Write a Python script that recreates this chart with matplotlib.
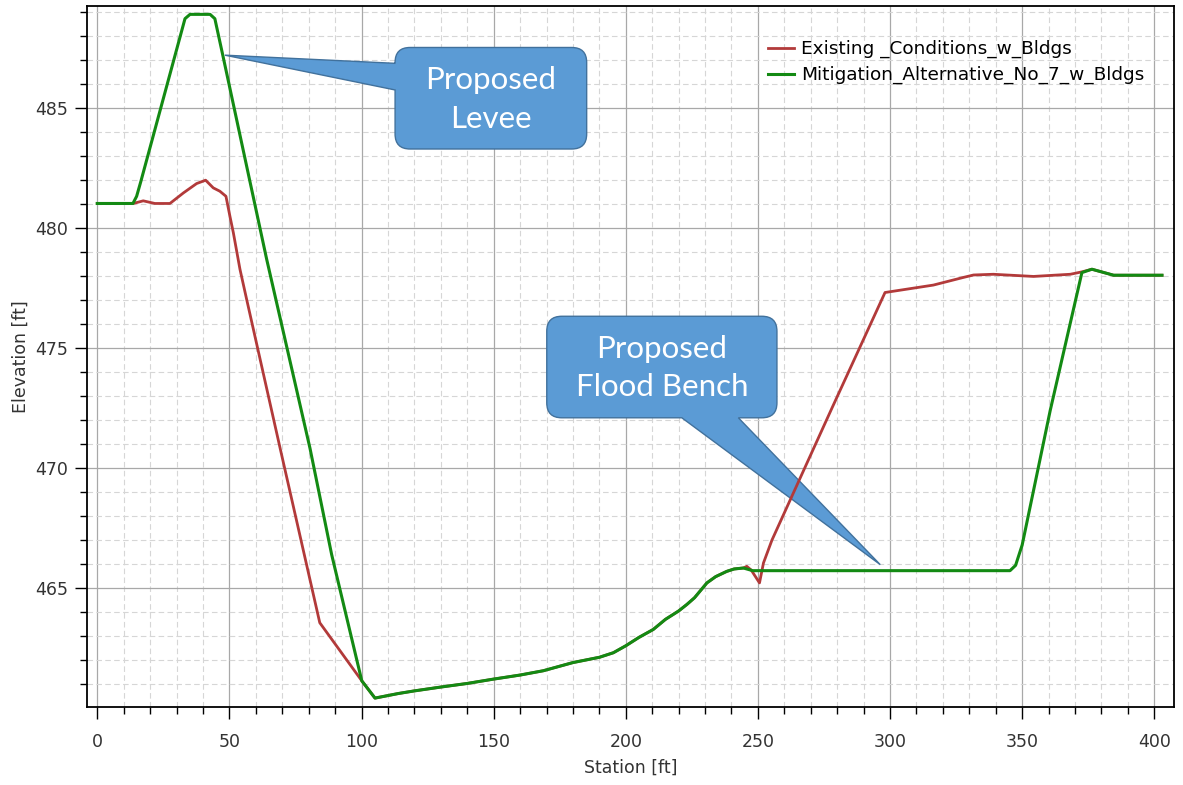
import matplotlib
matplotlib.use('Agg')
import matplotlib.pyplot as plt
from matplotlib.path import Path
from matplotlib.patches import PathPatch
from matplotlib.ticker import MultipleLocator

# Existing conditions profile (station ft, elevation ft)
existing_station = [0, 13.6, 17.4, 21.8, 27.5, 32.6, 37.6, 41.0, 43.9, 46.4, 48.7, 50.2, 51.5,
                    54.0, 56.5, 69.2, 84.2, 100.1, 105.1, 113.9, 120, 130, 140, 149.9, 160,
                    168.8, 180, 190, 195.3, 200, 205, 210.4, 215, 220, 223.1, 226, 230.7, 234,
                    238.2, 241, 244.5, 245.8, 247.5, 250.6, 252.1, 255.3, 278.0, 298.1,
                    316.4, 327.8, 331.6, 339.1, 354.3, 368.2, 372.6, 376.4, 384.6, 402.9]
existing_elev = [481.03, 481.03, 481.14, 481.03, 481.03, 481.47, 481.86, 482.0, 481.68, 481.54,
                 481.33, 480.5, 479.81, 478.29, 477.05, 470.83, 463.56, 461.14, 460.42, 460.61,
                 460.72, 460.88, 461.03, 461.21, 461.38, 461.56, 461.9, 462.12, 462.31, 462.6,
                 462.95, 463.28, 463.7, 464.05, 464.32, 464.6, 465.22, 465.48, 465.70, 465.8,
                 465.84, 465.91, 465.75, 465.22, 466.05, 467.0, 472.5, 477.32, 477.63, 477.95,
                 478.05, 478.08, 477.99, 478.08, 478.18, 478.29, 478.04, 478.04]

# Mitigation alternative no. 7 profile
mitigation_station = [0, 13.5, 14.9, 16.5, 33.2, 35.1, 42.7, 44.5, 47.5, 64.1,
                      80.5, 88.7, 100.1, 105.1, 113.9, 120, 130, 140, 149.9, 160, 168.8, 180,
                      190, 195.3, 200, 205, 210.4, 215, 220, 223.1, 226, 230.7, 234, 238.2, 241,
                      244.5, 248.0, 251.0, 345.4, 347.5, 350.0, 360.6, 372.6, 376.4, 384.6, 402.9]
mitigation_elev = [481.03, 481.03, 481.33, 481.95, 488.73, 488.91, 488.91,
                   488.73, 487.21, 478.71, 470.83, 466.4, 461.14, 460.42, 460.61, 460.72, 460.88,
                   461.03, 461.21, 461.38, 461.56, 461.9, 462.12, 462.31, 462.6, 462.95, 463.28,
                   463.7, 464.05, 464.32, 464.6, 465.22, 465.48, 465.70, 465.8, 465.84, 465.73,
                   465.73, 465.73, 465.95, 466.8, 472.4, 478.15, 478.29, 478.04, 478.04]

series_labels = ['Existing _Conditions_w_Bldgs', 'Mitigation_Alternative_No_7_w_Bldgs']
callout_texts = ['Proposed\nLevee', 'Proposed\nFlood Bench']

plt.rcParams['font.family'] = ['DejaVu Sans']

fig = plt.figure(figsize=(11.83, 7.85), dpi=100)
ax = fig.add_axes([0.0735, 0.0994, 0.919, 0.893])

ax.plot(existing_station, existing_elev, color='#b23a3a', lw=2.0, label=series_labels[0], zorder=3)
ax.plot(mitigation_station, mitigation_elev, color='#138a13', lw=2.2, label=series_labels[1], zorder=4)

ax.set_xlim(-3.9, 407.5)
ax.set_ylim(460.05, 489.26)
ax.xaxis.set_major_locator(MultipleLocator(50))
ax.xaxis.set_minor_locator(MultipleLocator(10))
ax.yaxis.set_major_locator(MultipleLocator(5))
ax.yaxis.set_minor_locator(MultipleLocator(1))

ax.set_axisbelow(True)
ax.grid(which='major', color='#a8a8a8', lw=0.9, ls='-')
ax.grid(which='minor', color='#d6d6d6', lw=0.8, ls=(0, (5, 3)))

ax.tick_params(which='major', length=8.5, width=1.0, color='black', labelsize=12.5,
               labelcolor='#333333')
ax.tick_params(axis='x', which='major', pad=10.5)
ax.tick_params(axis='y', which='major', pad=5)
ax.tick_params(which='minor', length=5, width=1.0, color='black')
for s in ax.spines.values():
    s.set_linewidth(1.3)
    s.set_color('black')

ax.set_xlabel('Station [ft]', fontsize=12.5, color='#333333', labelpad=5)
ax.set_ylabel('Elevation [ft]', fontsize=12.5, color='#333333', labelpad=4)

ax.legend(loc='upper left', bbox_to_anchor=(0.611, 0.975), frameon=False, fontsize=13.3,
          handlelength=1.4, handletextpad=0.4, labelspacing=0.42)


def callout(box, tip, base, side, text):
    # box = (x0, x1, y0, y1) in data, base = two points along one box side
    tr = ax.transData
    L, B = tr.transform((box[0], box[2]))
    R, T = tr.transform((box[1], box[3]))
    tx, ty = tr.transform(tip)
    r = 15
    verts, codes = [], []

    def add(p, c):
        verts.append(p)
        codes.append(c)

    add((L + r, B), Path.MOVETO)
    if side == 'bottom':
        a = tr.transform((base[0], box[2]))[0]
        b = tr.transform((base[1], box[2]))[0]
        add((a, B), Path.LINETO)
        add((tx, ty), Path.LINETO)
        add((b, B), Path.LINETO)
    add((R - r, B), Path.LINETO)
    add((R, B), Path.CURVE3)
    add((R, B + r), Path.CURVE3)
    add((R, T - r), Path.LINETO)
    add((R, T), Path.CURVE3)
    add((R - r, T), Path.CURVE3)
    add((L + r, T), Path.LINETO)
    add((L, T), Path.CURVE3)
    add((L, T - r), Path.CURVE3)
    if side == 'left':
        a = tr.transform((box[0], base[0]))[1]
        b = tr.transform((box[0], base[1]))[1]
        add((L, a), Path.LINETO)
        add((tx, ty), Path.LINETO)
        add((L, b), Path.LINETO)
    add((L, B + r), Path.LINETO)
    add((L, B), Path.CURVE3)
    add((L + r, B), Path.CURVE3)
    add((L + r, B), Path.CLOSEPOLY)
    patch = PathPatch(Path(verts, codes), facecolor='#5b9bd5', edgecolor='#41719c', lw=1.0,
                      transform=None, zorder=2)
    ax.add_artist(patch)
    ax.text((box[0] + box[1]) / 2, (box[2] + box[3]) / 2 - 0.05, text, ha='center', va='center',
            color='white', fontsize=22.5, family=['Lato', 'DejaVu Sans'], linespacing=1.45, zorder=5)


callout((112.7, 185.2, 483.30, 487.53), (48.3, 487.21), (486.87, 485.76), 'left', callout_texts[0])
callout((170.1, 257.2, 472.10, 476.33), (296.3, 465.98), (221.2, 242.6), 'bottom', callout_texts[1])

fig.savefig('out.png', dpi=100)
